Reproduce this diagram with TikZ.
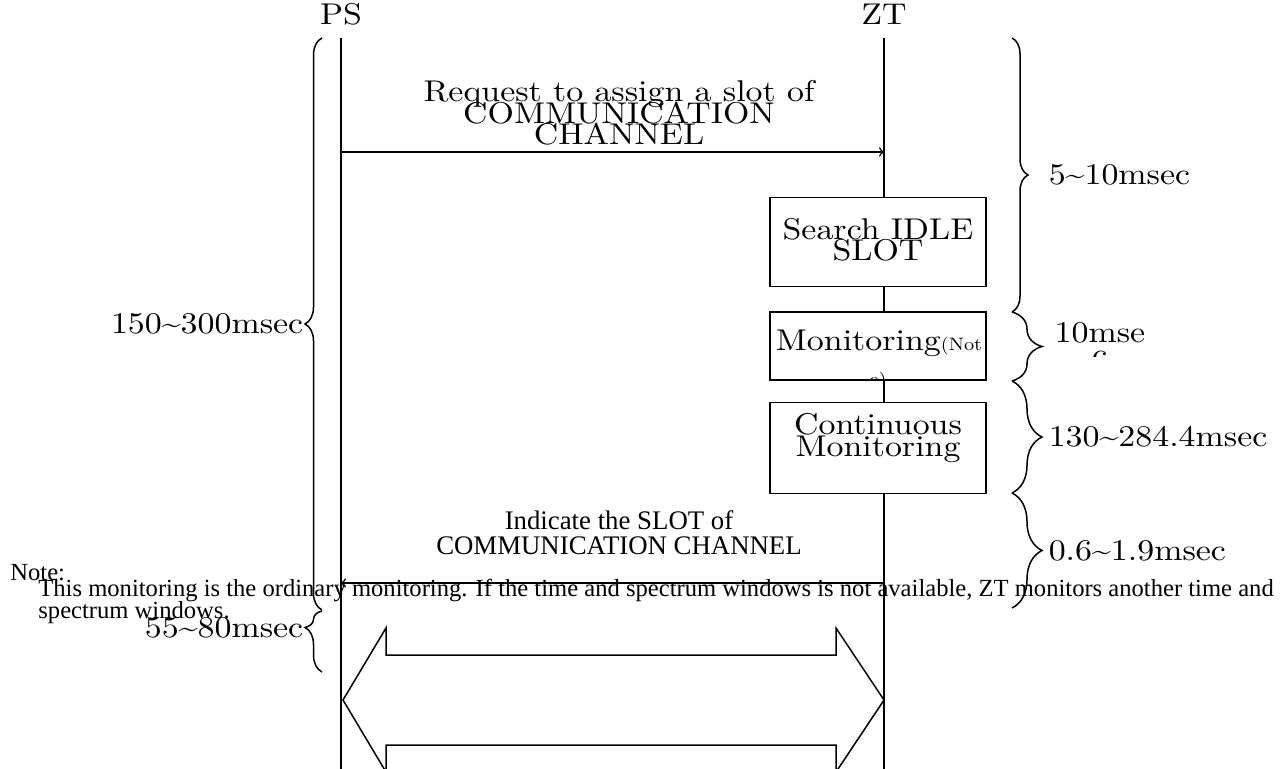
\documentclass[tikz,border=0pt]{standalone}
\usepackage{fontspec}
\newfontfamily\timesfont{Liberation Serif}
\newfontfamily\widefont{lmroman10-regular.otf}[FakeStretch=1.13]
\usetikzlibrary{positioning,decorations.pathreplacing}
\newcommand{\tld}{\textasciitilde}
\newcommand{\tightlines}{\lineskiplimit=-100pt\relax}

\begin{document}
\begin{tikzpicture}[
  x=0.5pt, y=-0.5pt,
  every node/.style = {inner sep=0pt, align=center,
    font=\widefont\fontsize{15}{10.75}\selectfont\tightlines},
  lifeline/.style = {line width=0.75pt},
  msg/.style = {->, line width=0.75pt},
  procbox/.style = {draw, line width=0.75pt, fill=white, minimum width=108pt},
  timebrace/.style = {decorate, decoration={brace, amplitude=#1}, line width=0.75pt},
  smalltxt/.style = {font=\timesfont\fontsize{13.4}{12.5}\selectfont},
  notetxt/.style = {anchor=base west, align=left, font=\timesfont\fontsize{12.3}{11}\selectfont}
  ]
  \useasboundingbox (0,0) rectangle (1288,769);
  \node (ps) at (341,14) {PS};
  \node (zt) at (884,14) {ZT};
  \coordinate (pstop) at (341,38);
  \coordinate (zttop) at (884,38);
  \coordinate (psend) at (341,769);
  \coordinate (ztend) at (884,769);
  \draw[lifeline] (pstop) -- (psend);
  \draw[lifeline] (zttop) -- (ztend);

  \coordinate (req1) at (341,152);
  \coordinate (req2) at (884,152);
  \draw[msg] (req1) -- (req2);
  \node (reqtxt) at (619,113) {Request to assign a slot of\\COMMUNICATION\\CHANNEL};

  \node[procbox, minimum height=44.5pt] (search) at (878,242) {};
  \node (searchtxt) at (878,240) {Search IDLE\\SLOT};
  \node[procbox, minimum height=34pt] (monitor) at (878,346) {};
  \begin{scope}
    \clip (monitor.south west) rectangle (monitor.north east);
    \node[anchor=base] (montxt) at (879,351) {Monitoring{\fontsize{9}{9}\selectfont(Not}};
    \node[anchor=base, font=\widefont\fontsize{9}{9}\selectfont] (monnote) at (878,386) {e)};
  \end{scope}
  \node[procbox, minimum height=45.5pt] (contmon) at (878,448) {};
  \node (contmontxt) at (878,438) {Continuous\\Monitoring};

  \draw[timebrace=8pt] (1012,38) -- (1012,312) node[midway, right=18pt] (t1) {5\tld10msec};
  \draw[timebrace=15pt] (1012,312) -- (1012,381) coordinate[midway] (t2);
  \begin{scope}
    \clip (1040,300) rectangle (1200,357);
    \node[anchor=base] (t2txt) at (1100,343) {10mse};
    \node[anchor=base] (t2end) at (1100,365) {c};
  \end{scope}
  \draw[timebrace=15pt] (1012,381) -- (1012,493) node[midway, right=18pt] (t3) {130\tld284.4msec};
  \draw[timebrace=15pt] (1012,493) -- (1012,608) node[midway, right=18pt] (t4) {0.6\tld1.9msec};

  \draw[timebrace=8.5pt] (322,610) -- (322,38) node[midway, left=9pt] (t0) {150\tld300msec};
  \draw[decorate, decoration={brace, amplitude=8.5pt, aspect=0.73}, line width=0.75pt]
    (322,672) -- (322,611) node[pos=0.73, left=9pt] (t5) {55\tld80msec};

  \coordinate (ind1) at (884,583);
  \coordinate (ind2) at (341,583);
  \draw[msg] (ind1) -- (ind2);
  \node[smalltxt] (indtxt) at (619,533) {Indicate the SLOT of\\COMMUNICATION CHANNEL};

  \node[notetxt] (note) at (10,580) {Note:};
  \node[notetxt] (notebody) at (38,596) {This monitoring is the ordinary monitoring. If the time and spectrum windows is not available, ZT monitors another time and};
  \node[notetxt] (notebody2) at (38,618) {spectrum windows.};

  \draw[lifeline] (343,700) -- (386,628) -- (386,655) -- (836,655) -- (836,628)
    -- (884,700) -- (836,772) -- (836,745) -- (386,745) -- (386,772) -- cycle;
\end{tikzpicture}
\end{document}
